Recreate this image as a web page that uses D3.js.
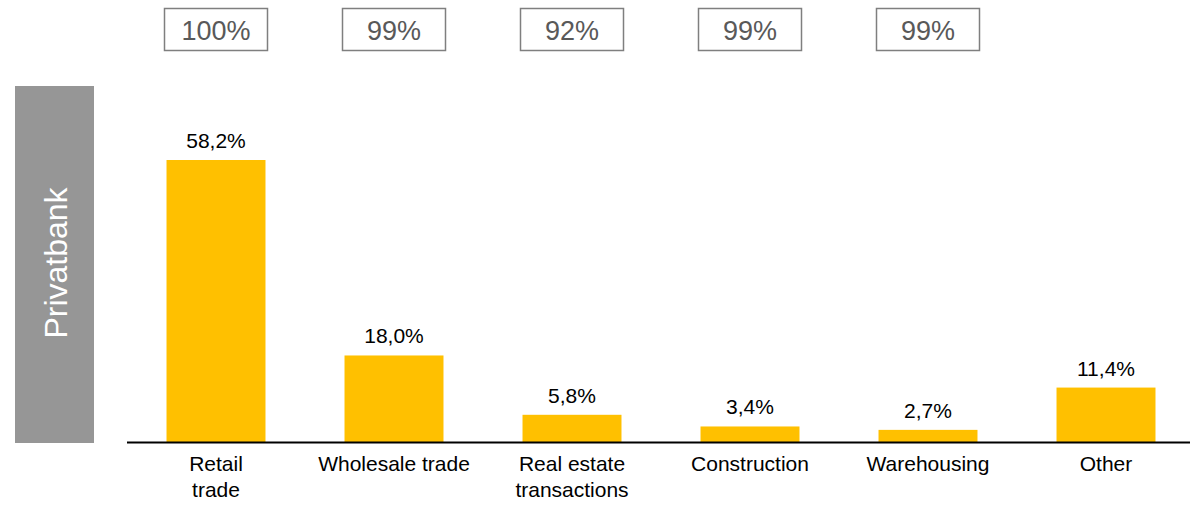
<!DOCTYPE html>
<html>
<head>
<meta charset="utf-8">
<script src="https://cdn.jsdelivr.net/npm/d3@7"></script>
<style>
  body { margin: 0; background: #fff; }
  svg { display: block; font-family: "Liberation Sans", Arial, sans-serif; }
</style>
</head>
<body>
<div id="chart"></div>
<script>
// categories, one line per entry of the inner array
var categories = [["Retail", "trade"], ["Wholesale trade"], ["Real estate", "transactions"],
  ["Construction"], ["Warehousing"], ["Other"]];
var shares = [58.2, 18.0, 5.8, 3.4, 2.7, 11.4];
var coverage = ["100%", "99%", "92%", "99%", "99%"];
var bankName = "Privatbank";

var width = 1190, height = 505
  , baseY = 443;

var svg = d3.select("#chart").append("svg")
  .attr("width", width)
  .attr("height", height);

var x = d3.scaleBand()
  .domain(d3.range(categories.length))
  .range([127, 1195])
  .paddingInner(0.444)
  .paddingOuter(0.222);

// 58.2 -> top of the bar at 160
var y = d3.scaleLinear()
  .domain([0, 58.2])
  .range([baseY, 160]);

var fmt = function (v) { return v.toFixed(1).replace(".", ",") + "%"; };

// --- side label --- \\
svg.append("rect")
  .attr("x", 15).attr("y", 86)
  .attr("width", 79).attr("height", 357)
  .attr("fill", "#969696");

svg.append("text")
  .attr("transform", "translate(67,263) rotate(-90)")
  .attr("text-anchor", "middle")
  .attr("fill", "#fff")
  .attr("font-size", 32)
  .text(bankName);

// --- bars --- \\
svg.selectAll(".bar").data(shares).enter().append("rect")
  .attr("class", "bar")
  .attr("x", function (d, i) { return x(i); })
  .attr("width", x.bandwidth())
  .attr("y", function (d) { return y(d); })
  .attr("height", function (d) { return baseY - y(d); })
  .attr("fill", "#ffc000");

svg.selectAll(".val").data(shares).enter().append("text")
  .attr("class", "val")
  .attr("x", function (d, i) { return x(i) + x.bandwidth() / 2; })
  .attr("y", function (d) { return y(d) - 12; })
  .attr("text-anchor", "middle")
  .attr("font-size", 21)
  .attr("fill", "#000")
  .text(fmt);

// --- axis line --- \\
svg.append("line")
  .attr("x1", 127).attr("x2", width)
  .attr("y1", 442.5).attr("y2", 442.5)
  .attr("stroke", "#000")
  .attr("stroke-width", 2);

// --- category labels --- \\
var cat = svg.selectAll(".cat").data(categories).enter().append("text")
  .attr("class", "cat")
  .attr("text-anchor", "middle")
  .attr("font-size", 21)
  .attr("fill", "#000");

cat.selectAll("tspan").data(function (d, i) {
    return d.map(function (line, j) { return { line: line, i: i, j: j }; });
  }).enter().append("tspan")
  .attr("x", function (d) { return x(d.i) + x.bandwidth() / 2; })
  .attr("y", function (d) { return 471 + d.j * 25.5; })
  .text(function (d) { return d.line; });

// --- coverage boxes --- \\
var box = svg.selectAll(".cov").data(coverage).enter().append("g")
  .attr("class", "cov")
  .attr("transform", function (d, i) {
    return "translate(" + (x(i) + x.bandwidth() / 2) + ",29.5)";
  });

box.append("rect")
  .attr("x", -51.5).attr("y", -21)
  .attr("width", 103).attr("height", 42)
  .attr("fill", "#fff")
  .attr("stroke", "#7f7f7f")
  .attr("stroke-width", 1.5);

box.append("text")
  .attr("text-anchor", "middle")
  .attr("y", 10.5)
  .attr("font-size", 27)
  .attr("fill", "#595959")
  .text(function (d) { return d; });
</script>
</body>
</html>
